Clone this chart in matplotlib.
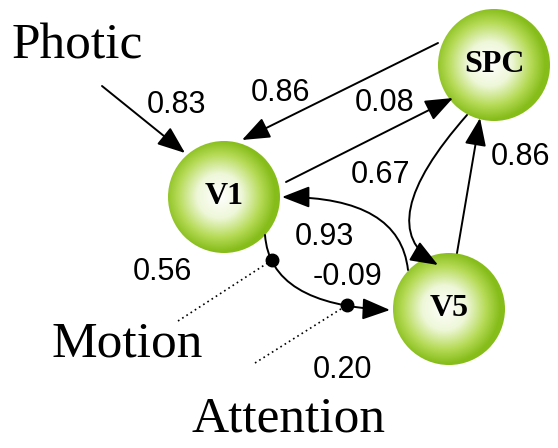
import numpy as np
import matplotlib.pyplot as plt
from matplotlib.patches import FancyArrowPatch, Circle
from matplotlib.path import Path
from matplotlib.colors import LinearSegmentedColormap

# node names, centres (pixel coords, y down) and radius
node_names = ['V1', 'V5', 'SPC']
node_x = [224, 449, 494]
node_y = [197, 309, 65]
node_r = 56

# straight arrows: start -> tip
straight = [
    ((102, 86), (185, 153)),    # Photic -> V1
    ((438, 43), (242, 140)),    # SPC -> V1
    ((286, 182), (453, 98)),    # V1 -> SPC
    ((457, 253), (480, 118)),   # V5 -> SPC
]
# curved arrows: start, control, tip
curved = [
    ((467, 115), (370, 225), (438, 265)),   # SPC -> V5
    ((408, 270), (400, 197), (282, 197)),   # V5 -> V1
    ((265, 235), (270, 305), (390, 310)),   # V1 -> V5 (modulated)
]
# modulation dots on V1->V5 edge, at these bezier params
dot_t = [0.2, 0.8]
dot_src = [(178, 321), (255, 363)]   # dotted line origins (Motion, Attention)

weights = ['0.83', '0.86', '0.08', '0.67', '0.86', '0.93', '-0.09', '0.56', '0.20']
weight_x = [177, 281, 385, 381, 521, 324, 348, 162, 342]
weight_y = [105, 93, 103, 175, 157, 237, 277, 272, 370]

inputs = ['Photic', 'Motion', 'Attention']
input_x = [77, 127, 288]
input_y = [46, 344, 419]

fig = plt.figure(figsize=(5.58, 4.48), dpi=100)
ax = fig.add_axes([0, 0, 1, 1])
ax.set_xlim(0, 558)
ax.set_ylim(448, 0)
ax.axis('off')

# green balls with radial gradient
cmap = LinearSegmentedColormap.from_list('ball', [(0, '#ffffff'), (0.4, '#eef7d8'),
                                                  (0.75, '#b5da55'), (1, '#86bd1a')])
g = np.linspace(-1, 1, 200)
gx, gy = np.meshgrid(g, g)
rr = np.clip(np.sqrt((gx + 0.08) ** 2 + (gy + 0.02) ** 2), 0, 1)
for name, cx, cy in zip(node_names, node_x, node_y):
    im = ax.imshow(rr, cmap=cmap, vmin=0, vmax=1, interpolation='bilinear',
                   extent=[cx - node_r, cx + node_r, cy + node_r, cy - node_r], zorder=2)
    circ = Circle((cx, cy), node_r, transform=ax.transData, facecolor='none', edgecolor='none')
    ax.add_patch(circ)
    im.set_clip_path(circ)
    ax.text(cx, cy, name, ha='center', va='center', fontsize=23, fontweight='bold',
            family='Liberation Serif', zorder=5)

ax.set_xlim(0, 558)
ax.set_ylim(448, 0)

astyle = '-|>,head_length=0.9,head_width=0.35'
for (a, b) in straight:
    ax.add_patch(FancyArrowPatch(a, b, arrowstyle=astyle, mutation_scale=19,
                                 shrinkA=0, shrinkB=0, lw=1.4, color='black', zorder=4))

for (a, c, b) in curved:
    p = Path([a, c, b], [Path.MOVETO, Path.CURVE3, Path.CURVE3])
    ax.add_patch(FancyArrowPatch(path=p, arrowstyle=astyle, mutation_scale=19,
                                 lw=1.4, color='black', zorder=4))

a, c, b = curved[2]
for t, src in zip(dot_t, dot_src):
    px = (1 - t) ** 2 * a[0] + 2 * t * (1 - t) * c[0] + t ** 2 * b[0]
    py = (1 - t) ** 2 * a[1] + 2 * t * (1 - t) * c[1] + t ** 2 * b[1]
    ax.plot([src[0], px], [src[1], py], ls=(0, (1, 2)), lw=1.2, color='black', zorder=3)
    ax.plot(px, py, 'o', ms=9, color='black', zorder=6)

for s, x, y in zip(weights, weight_x, weight_y):
    ax.text(x, y, s, ha='center', va='center', fontsize=22, family='Liberation Sans')

for s, x, y in zip(inputs, input_x, input_y):
    ax.text(x, y, s, ha='center', va='center', fontsize=37, family='Liberation Serif')

fig.savefig('out.png', dpi=100)
